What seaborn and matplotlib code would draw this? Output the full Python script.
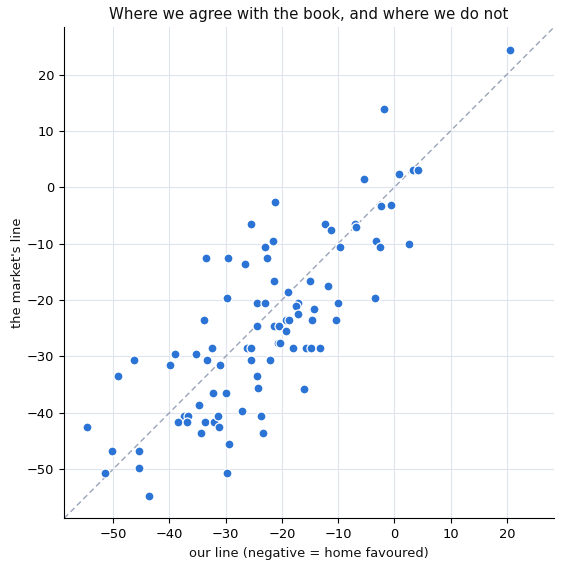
import seaborn as sns
import matplotlib.pyplot as plt
import pandas as pd

sns.set_style('ticks', {'axes.edgecolor': 'black', 'text.color': '#111111',
                        'axes.labelcolor': '#111111', 'xtick.color': 'black',
                        'ytick.color': 'black'})

# our line vs the market's line
our_line = [20.5, -1.9, -5.3, 0.9, 3.4, 4.2, -2.3, -0.5, -12.4, -11.3,
            -7.0, -6.8, -9.7, -3.2, -2.5, 2.7, -14.9, -21.2, -25.5, -21.6,
            -23.0, -33.5, -29.6, -26.6, -22.6, -21.4, -11.8, -18.9, -29.7, -3.5,
            -24.4, -23.0, -17.1, -17.5, -10.0, -14.3, -17.1, -33.8, -19.3, -18.7,
            -14.7, -10.4, -24.4, -21.4, -20.5, -19.3, -20.7, -20.3, -26.2, -25.5,
            -18.0, -15.7, -14.8, -13.2, -32.4, -35.3, -33.3, -25.5, -22.1, -31.0,
            -39.0, -46.3, -39.9, -49.1, -24.4, -32.2, -30.0, -24.2, -16.1, -34.7,
            -27.1, -54.6, -37.4, -36.7, -38.5, -36.9, -33.7, -32.1, -31.4, -31.2,
            -34.4, -23.7, -23.4, -29.4, -50.2, -45.4, -45.4, -51.4, -29.8, -43.6]
market_line = [24.4, 13.9, 1.5, 2.4, 3.0, 3.0, -3.4, -3.1, -6.5, -7.5,
               -6.5, -7.1, -10.6, -9.5, -10.6, -10.1, -16.6, -2.6, -6.5, -9.5,
               -10.6, -12.6, -12.6, -13.6, -12.6, -16.6, -17.5, -18.6, -19.7, -19.7,
               -20.6, -20.6, -20.6, -21.0, -20.6, -21.6, -22.5, -23.6, -23.6, -23.6,
               -23.6, -23.6, -24.6, -24.6, -24.6, -25.5, -27.7, -27.7, -28.5, -28.5,
               -28.5, -28.5, -28.5, -28.5, -28.5, -29.6, -30.7, -30.7, -30.7, -31.6,
               -29.6, -30.7, -31.6, -33.5, -33.5, -36.5, -36.5, -35.6, -35.7, -38.7,
               -39.6, -42.6, -40.6, -40.6, -41.7, -41.7, -41.7, -41.7, -40.6, -42.6,
               -43.6, -40.6, -43.6, -45.6, -46.7, -46.7, -49.7, -50.6, -50.6, -54.7]

df = pd.DataFrame({'ours': our_line, 'market': market_line})

lo, hi = -58.7, 28.4

fig, ax = plt.subplots(figsize=(5.63, 5.67), dpi=100)
fig.subplots_adjust(left=0.114, right=0.984, top=0.952, bottom=0.086)
ax.grid(True, color='#dfe5ee', linewidth=0.8)
ax.set_axisbelow(True)

ax.plot([lo, hi], [lo, hi], ls=(0, (4, 2.5)), color='#9aa3b8', lw=1, zorder=1)
sns.scatterplot(data=df, x='ours', y='market', color='#2b74d6', s=42,
                edgecolor='white', linewidth=0.9, ax=ax, zorder=3)

ax.set_xlim(lo, hi)
ax.set_ylim(lo, hi)
ax.set_xticks(range(-50, 21, 10))
ax.set_yticks(range(-50, 21, 10))
ax.tick_params(labelsize=9.4)
ax.set_xlabel('our line (negative = home favoured)', fontsize=9.4)
ax.set_ylabel("the market's line", fontsize=9.4, labelpad=2)
ax.set_title('Where we agree with the book, and where we do not', fontsize=10.8)
sns.despine()

plt.savefig('out.png')
